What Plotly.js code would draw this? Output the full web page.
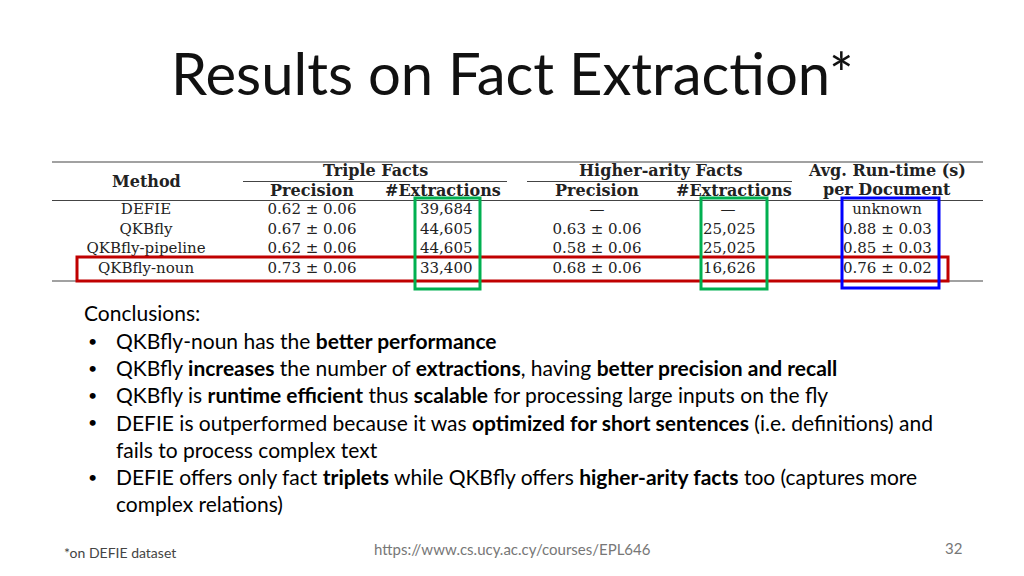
<!DOCTYPE html>
<html>
<head>
<meta charset="utf-8">
<script src="https://cdn.plot.ly/plotly-3.0.1.min.js"></script>
<style>html,body{margin:0;padding:0;background:#fff}</style>
</head>
<body>
<div id="plot" style="width:1024px;height:576px"></div>
<script>
// table data
var methods = ['DEFIE', 'QKBfly', 'QKBfly-pipeline', 'QKBfly-noun'];
var triplePrecision = ['0.62 ± 0.06', '0.67 ± 0.06', '0.62 ± 0.06', '0.73 ± 0.06'];
var tripleExtractions = ['39,684', '44,605', '44,605', '33,400'];
var higherPrecision = ['—', '0.63 ± 0.06', '0.58 ± 0.06', '0.68 ± 0.06'];
var higherExtractions = ['—', '25,025', '25,025', '16,626'];
var runtime = ['unknown', '0.88 ± 0.03', '0.85 ± 0.03', '0.76 ± 0.02'];

var bullets = [
  'QKBfly-noun has the <b>better performance</b>',
  'QKBfly <b>increases</b> the number of <b>extractions</b>, having <b>better precision and recall</b>',
  'QKBfly is <b>runtime efficient</b> thus <b>scalable</b> for processing large inputs on the fly',
  'DEFIE is outperformed because it was <b>optimized for short sentences</b> (i.e. definitions) and<br>fails to process complex text',
  'DEFIE offers only fact <b>triplets</b> while QKBfly offers <b>higher-arity facts</b> too (captures more<br>complex relations)'
];

var serif = 'DejaVu Serif, serif';
var cellFont = {family: serif, size: 15, color: '#222'};
var rowY = methods.map(function (m, i) { return 210.5 + i * 19.6; });

// one text trace per column; idx picks which rows go in it
function col(x, vals, pos, idx) {
  idx = idx || vals.map(function (v, i) { return i; });
  return {
    x: idx.map(function () { return x; }),
    y: idx.map(function (i) { return rowY[i]; }),
    text: idx.map(function (i) { return vals[i]; }),
    mode: 'text',
    type: 'scatter',
    textposition: pos || 'middle center',
    textfont: cellFont,
    hoverinfo: 'skip',
    showlegend: false
  };
}

var data = [
  col(146, methods),
  col(312, triplePrecision),
  col(420, tripleExtractions, 'middle right'),
  col(597, higherPrecision),
  col(728, higherExtractions, 'middle center', [0]),
  col(703, higherExtractions, 'middle right', [1, 2, 3]),
  col(887, runtime, 'middle center', [0]),
  col(843, runtime, 'middle right', [1, 2, 3])
];

var headFont = {family: serif, size: 16, color: '#222'};
var bodyFont = {family: 'Lato, sans-serif', size: 21, color: '#000'};
var footFont = {family: 'Lato, sans-serif', size: 15, color: '#777'};

var annotations = [
  {x: 512, y: 72, text: 'Results on Fact Extraction*', showarrow: false,
   font: {family: 'Lato, sans-serif', size: 58, color: '#111'}},
  {x: 146, y: 181, text: '<b>Method</b>', showarrow: false, font: headFont},
  {x: 375, y: 170, text: '<b>Triple Facts</b>', showarrow: false, font: headFont},
  {x: 312, y: 190, text: '<b>Precision</b>', showarrow: false, font: headFont},
  {x: 443, y: 190, text: '<b>#Extractions</b>', showarrow: false, font: headFont},
  {x: 660, y: 170, text: '<b>Higher-arity Facts</b>', showarrow: false, font: headFont},
  {x: 597, y: 190, text: '<b>Precision</b>', showarrow: false, font: headFont},
  {x: 734, y: 190, text: '<b>#Extractions</b>', showarrow: false, font: headFont},
  {x: 887, y: 170, text: '<b>Avg. Run-time (s)</b>', showarrow: false, font: headFont},
  {x: 887, y: 189.5, text: '<b>per Document</b>', showarrow: false, font: headFont},
  {x: 82, y: 312, text: 'Conclusions:', showarrow: false, xanchor: 'left', font: bodyFont},
  {x: 62, y: 552, text: '*on DEFIE dataset', showarrow: false, xanchor: 'left',
   font: {family: 'Lato, sans-serif', size: 14, color: '#444'}},
  {x: 512, y: 549, text: 'https://www.cs.ucy.ac.cy/courses/EPL646', showarrow: false, font: footFont},
  {x: 953, y: 548, text: '32', showarrow: false, font: footFont}
];

var lineY = 340;
bullets.forEach(function (b) {
  var nLines = b.split('<br>').length;
  annotations.push({x: 86, y: lineY, text: '•', showarrow: false, xanchor: 'left',
    font: {family: 'Lato, sans-serif', size: 16, color: '#000'}});
  annotations.push({x: 114, y: lineY, text: b, showarrow: false, xanchor: 'left', yanchor: 'top',
    yshift: 14, align: 'left', font: bodyFont});
  lineY += 27.2 * nLines;
});

function hline(x0, x1, y, w) {
  return {type: 'line', x0: x0, x1: x1, y0: y, y1: y, line: {color: '#444', width: w || 1}};
}
function box(x0, x1, y0, y1, c) {
  return {type: 'rect', x0: x0, x1: x1, y0: y0, y1: y1, line: {color: c, width: 3}};
}

var shapes = [
  hline(52, 983, 162, 1.2),
  hline(243, 507, 181.5),
  hline(527, 792, 181.5),
  hline(52, 983, 200.5),
  hline(52, 983, 281, 1.2),
  box(77, 948, 257, 281, '#c00000'),
  box(415, 480, 198, 289, '#00b050'),
  box(701, 767, 198, 289, '#00b050'),
  box(842, 939, 198, 288, '#0000ff')
];

var layout = {
  width: 1024, height: 576,
  margin: {l: 0, r: 0, t: 0, b: 0},
  paper_bgcolor: '#fff', plot_bgcolor: '#fff',
  xaxis: {range: [0, 1024], visible: false, fixedrange: true},
  yaxis: {range: [576, 0], visible: false, fixedrange: true},
  annotations: annotations,
  shapes: shapes,
  showlegend: false
};

Plotly.newPlot('plot', data, layout, {displayModeBar: false, staticPlot: true});
</script>
</body>
</html>
